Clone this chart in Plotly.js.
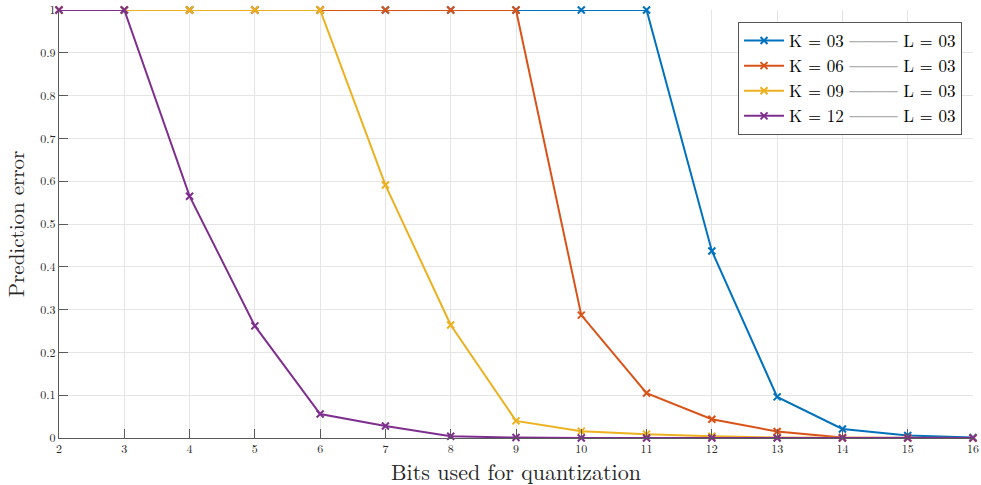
<!DOCTYPE html>
<html>
<head>
<meta charset="utf-8">
<script src="https://cdn.plot.ly/plotly-3.0.1.min.js"></script>
<style>html,body{margin:0;padding:0;background:#fff;}#chart{width:981px;height:485px;}</style>
</head>
<body>
<div id="chart"></div>
<script>
const bits = [2, 3, 4, 5, 6, 7, 8, 9, 10, 11, 12, 13, 14, 15, 16];
const errK03 = [1, 1, 1, 1, 1, 1, 1, 1, 1, 1, 0.437, 0.096, 0.021, 0.006, 0.001];
const errK06 = [1, 1, 1, 1, 1, 1, 1, 1, 0.287, 0.105, 0.044, 0.015, 0.001, 0, 0];
const errK09 = [1, 1, 1, 1, 1, 0.591, 0.264, 0.040, 0.016, 0.009, 0.004, 0.001, 0, 0, 0];
const errK12 = [1, 1, 0.565, 0.262, 0.056, 0.028, 0.004, 0.001, 0, 0, 0, 0, 0, 0, 0];
const seriesNames = ["K = 03", "K = 06", "K = 09", "K = 12"];
const lName = "L = 03";
const colors = ["#0072BD", "#D95319", "#EDB120", "#7E2F8E"];
const yTicks = [0, 0.1, 0.2, 0.3, 0.4, 0.5, 0.6, 0.7, 0.8, 0.9, 1];
const yTickText = ["0", "0.1", "0.2", "0.3", "0.4", "0.5", "0.6", "0.7", "0.8", "0.9", "1"];
const xTitle = 'Bits used for quantization';
const yTitle = 'Prediction error';

const font = "'Latin Modern Roman','CMU Serif','Liberation Serif','DejaVu Serif',serif";
const allY = [errK03, errK06, errK09, errK12];
const traces = allY.map((ys, i) => ({
  x: bits, y: ys, type: 'scatter', mode: 'lines+markers',
  name: seriesNames[i] + " <span style='color:#b0b0b0'>────</span> " + lName,
  line: {color: colors[i], width: 2},
  marker: {symbol: 'x-thin', size: 7, line: {color: colors[i], width: 2}, color: colors[i]},
  cliponaxis: false
}));

const layout = {
  width: 981, height: 485,
  margin: {l: 59, r: 8, t: 10, b: 47},
  paper_bgcolor: '#fff', plot_bgcolor: '#fff',
  font: {family: font, color: '#262626'},
  showlegend: true,
  legend: {
    x: 0.988, y: 0.972, xanchor: 'right', yanchor: 'top',
    bgcolor: '#fff', bordercolor: '#555', borderwidth: 1,
    font: {family: font, size: 17, color: '#000'},
    tracegroupgap: 0, itemwidth: 40
  },
  annotations: [{
    text: xTitle, xref: 'paper', yref: 'paper', x: 0.5, y: -0.077,
    xanchor: 'center', yanchor: 'middle', showarrow: false,
    font: {family: font, size: 22, color: '#262626'}
  }],
  xaxis: {
    range: [2, 16], tickmode: 'array', tickvals: bits, ticktext: bits.map(String),
    showgrid: true, gridcolor: '#e5e5e5', gridwidth: 1,
    showline: true, linecolor: '#5a5a5a', linewidth: 1,
    ticks: 'inside', ticklen: 9, tickcolor: '#5a5a5a', tickwidth: 1,
    tickfont: {family: font, size: 12, color: '#262626'},
    zeroline: false, fixedrange: true
  },
  yaxis: {
    range: [0, 1], tickmode: 'array', tickvals: yTicks, ticktext: yTickText,
    showgrid: true, gridcolor: '#e5e5e5', gridwidth: 1,
    showline: true, linecolor: '#5a5a5a', linewidth: 1,
    ticks: 'inside', ticklen: 9, tickcolor: '#5a5a5a', tickwidth: 1,
    tickfont: {family: font, size: 12, color: '#262626'},
    zeroline: false, fixedrange: true,
    title: {text: yTitle, font: {family: font, size: 21, color: '#262626'}, standoff: 10}
  }
};

Plotly.newPlot('chart', traces, layout, {displayModeBar: false, staticPlot: true});
</script>
</body>
</html>
